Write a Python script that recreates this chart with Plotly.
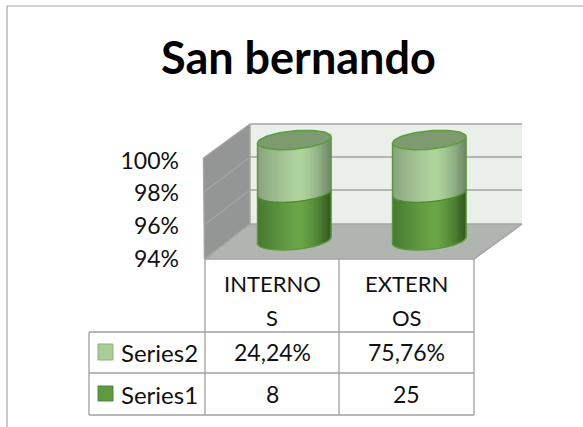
import math
import plotly.graph_objects as go

# ---- data ----
title = "San bernando"
categories = ["INTERNOS", "EXTERNOS"]
category_rows = [["INTERNO", "S"], ["EXTERN", "OS"]]
series1_name = "Series1"
series2_name = "Series2"
series1 = [8, 25]
series2 = [0.2424, 0.7576]
series1_labels = ["8", "25"]
series2_labels = ["24,24%", "75,76%"]
axis_ticks = [94, 96, 98, 100]
axis_labels = ["94%", "96%", "98%", "100%"]

# ---- layout constants (pixels of the 583x427 page) ----
W, H = 583, 427
FONT = "Lato"
CAT_PX = 135.0          # one category step
FIRST_CX = 294.3        # centre of first cylinder
PX_PER_PCT = 17.9       # cylinder plane scale
TOP_PX = 140.0          # y pixel of 100 % on cylinder plane
FLOOR_VALUE = 94.4      # where cylinders stand on the floor (axis value)
A_PX, B_PX, TILT_PX = 36.8, 9.2, 3.2
N = 74

xr = [-FIRST_CX / CAT_PX, (W - FIRST_CX) / CAT_PX]
yr = [100 - (H - TOP_PX) / PX_PER_PCT, 100 + TOP_PX / PX_PER_PCT]
# tick label axis (front plane)
t94, t100 = 259.0, 160.5
tick_scale = (t94 - t100) / 6
yr_ticks = [94 - (H - t94) / tick_scale, 100 + t100 / tick_scale]


def px(x):
    return x / W


def py(y):
    return 1 - y / H


def poly(points):
    return "M" + " L".join(f"{px(a):.4f},{py(b):.4f}" for a, b in points) + " Z"


def lerp(c1, c2, t):
    return tuple(c1[i] + (c2[i] - c1[i]) * t for i in range(3))


def shade(u, left, mid, right):
    peak = 0.12
    if u < peak:
        t = (u + 1) / (1 + peak)
        c = lerp(left, mid, t ** 0.8)
    else:
        t = (u - peak) / (1 - peak)
        c = lerp(mid, right, t ** 1.5)
    return "rgb(%d,%d,%d)" % c


def curve(u):
    """value offset of the front of the cylinder rim at position u"""
    return (TILT_PX * u - B_PX * math.sqrt(max(0, 1 - u * u))) / PX_PER_PCT


us = [-1 + 2 * (i + 0.5) / N for i in range(N)]
strip_w = 1.3 * (2 * A_PX / N) / CAT_PX
a_x = A_PX / CAT_PX

fig = go.Figure()
s1x, s1y, s1b, s1c, s2x, s2y, s2b, s2c = [], [], [], [], [], [], [], []
for i in range(len(categories)):
    share = 100 * series1[i] / (series1[i] + series2[i])
    for u in us:
        off = curve(u)
        s1x.append(i + a_x * u)
        s1b.append(FLOOR_VALUE + off)
        s1y.append(share - FLOOR_VALUE)
        s1c.append(shade(u, (68, 118, 48), (107, 167, 72), (52, 90, 32)))
        s2x.append(i + a_x * u)
        s2b.append(share + off)
        s2y.append(100 - share)
        s2c.append(shade(u, (136, 160, 124), (175, 213, 158), (114, 138, 108)))

common = dict(width=strip_w, marker_line_width=0, hoverinfo="skip", showlegend=False, xaxis="x", yaxis="y")
fig.add_trace(go.Bar(x=s1x, y=s1y, base=s1b, marker_color=s1c, name=series1_name, **common))
fig.add_trace(go.Bar(x=s2x, y=s2y, base=s2b, marker_color=s2c, name=series2_name, **common))

# rims and tops
for i in range(len(categories)):
    share = 100 * series1[i] / (series1[i] + series2[i])
    dense = [-1 + 2 * k / 60 for k in range(61)]
    for level, col in ((FLOOR_VALUE, "#5A9A3C"), (share, "#4E8A32")):
        fig.add_trace(go.Scatter(
            x=[i + a_x * u for u in dense], y=[level + curve(u) for u in dense],
            mode="lines", line=dict(color=col, width=1.4, shape="spline"),
            hoverinfo="skip", showlegend=False))
    for side in (-1, 1):
        fig.add_trace(go.Scatter(
            x=[i + side * a_x] * 2, y=[FLOOR_VALUE + curve(side), 100 + curve(side)],
            mode="lines", line=dict(color="#5A963D", width=1.4),
            hoverinfo="skip", showlegend=False))
    ts = [2 * math.pi * k / 72 for k in range(73)]
    fig.add_trace(go.Scatter(
        x=[i + a_x * math.cos(t) for t in ts],
        y=[100 + (TILT_PX * math.cos(t) + B_PX * math.sin(t)) / PX_PER_PCT for t in ts],
        mode="lines", fill="toself", fillcolor="#7D9B6F",
        line=dict(color="#5C9C3E", width=1.5),
        hoverinfo="skip", showlegend=False))

# invisible trace that carries the tick label axis
fig.add_trace(go.Scatter(x=[0], y=[axis_ticks[0]], yaxis="y2", mode="markers",
                         marker_opacity=0, hoverinfo="skip", showlegend=False))

GRID = "#A3A5A3"
shapes = []


def add_poly(points, fill, line="rgba(0,0,0,0)", w=0):
    shapes.append(dict(type="path", xref="paper", yref="paper", path=poly(points),
                       fillcolor=fill, line=dict(color=line, width=w), layer="below"))


def add_line(a, b, color=GRID, w=1.5):
    shapes.append(dict(type="line", xref="paper", yref="paper",
                       x0=px(a[0]), y0=py(a[1]), x1=px(b[0]), y1=py(b[1]),
                       line=dict(color=color, width=w), layer="below"))


# chart frame
add_line((7, 6), (W, 6), "#A6A6A6", 1.2)
add_line((7, 6), (7, H), "#A6A6A6", 1.2)
# walls
add_poly([(250, 124), (522, 124), (522, 224), (250, 224)], "#EAEFE9")
add_poly([(203.5, 158), (250, 124), (250, 224), (204.5, 259)], "#929694")
add_poly([(205, 259), (474, 259), (522, 224), (250, 224)], "#B1B5B0")
# grid
for y_back, y_front in ((157, 192), (190, 225)):
    add_line((250, y_back), (522, y_back))
    add_line((250, y_back), (204, y_front))
add_line((250, 124), (522, 124))
add_line((203.5, 158), (250, 124))
add_line((203.5, 158), (204.5, 259))
add_line((250, 124), (250, 224))
add_line((250, 224), (522, 224))
add_line((250, 224), (205, 259))
add_line((205, 259), (474, 259))
add_line((474, 259), (522, 224))
# table
for x, y0 in ((89, 332), (205, 259), (339, 259), (474, 259)):
    add_line((x, y0), (x, 415), "#A0A0A0", 1.3)
for y in (332, 373, 415):
    add_line((89, y), (474, y), "#A0A0A0", 1.3)
# legend keys
add_poly([(98, 344), (113, 344), (113, 360), (98, 360)], "#A9CD97", "#8FAF80", 1)
add_poly([(98, 386), (113, 386), (113, 401), (98, 401)], "#5F9A42", "#4F8736", 1)

annotations = []


def add_text(x, y, text, size=23, anchor="center", bold=False):
    annotations.append(dict(xref="paper", yref="paper", x=px(x), y=py(y), text=f"<b>{text}</b>" if bold else text,
                            showarrow=False, xanchor=anchor, yanchor="middle",
                            font=dict(family=FONT, size=size, color="#111111" if not bold else "#000000")))


add_text(298, 57, title, size=45, bold=True)
col_x = [272, 406.5]
for cx, rows, v2, v1 in zip(col_x, category_rows, series2_labels, series1_labels):
    add_text(cx, 283, rows[0], size=22)
    add_text(cx, 317, rows[1], size=22)
    add_text(cx, 352, v2)
    add_text(cx, 394, v1)
add_text(119, 352, series2_name, anchor="left", size=24)
add_text(119, 394, series1_name, anchor="left", size=24)

fig.update_layout(
    width=W, height=H, margin=dict(l=0, r=0, t=0, b=0),
    paper_bgcolor="white", plot_bgcolor="rgba(0,0,0,0)",
    barmode="overlay", showlegend=False,
    shapes=shapes, annotations=annotations,
    xaxis=dict(domain=[0, 1], range=xr, visible=False, fixedrange=True),
    yaxis=dict(domain=[0, 1], range=yr, visible=False, fixedrange=True),
    yaxis2=dict(domain=[0, 1], range=yr_ticks, overlaying="y", anchor="free", position=179 / W,
                side="left", tickvals=axis_ticks, ticktext=axis_labels, showgrid=False,
                showline=False, zeroline=False, ticks="", fixedrange=True,
                tickfont=dict(family=FONT, size=23, color="#111111")),
)

fig.write_html("out.html", config={"displayModeBar": False},
               post_script="document.body.style.margin='0';document.documentElement.style.overflow='hidden';")
